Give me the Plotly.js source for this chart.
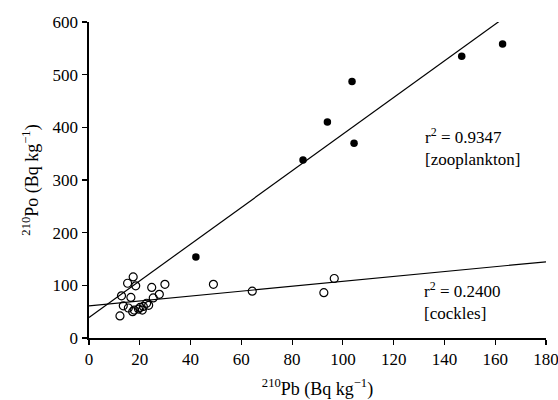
<!DOCTYPE html>
<html>
<head>
<meta charset="utf-8">
<script src="https://cdn.plot.ly/plotly-3.0.1.min.js"></script>
<style>
html,body{margin:0;padding:0;background:#fff;}
#chart{width:558px;height:400px;}
</style>
</head>
<body>
<div id="chart"></div>
<script>
// Zooplankton (filled circles)
const zooPb = [42.1, 84.3, 93.9, 103.6, 104.4, 146.8, 162.9];
const zooPo = [154, 338, 410, 487, 370, 535, 558];
// Cockles (open circles)
const cockPb = [12.2, 12.8, 13.5, 15.2, 15.5, 16.5, 17.2, 17.4, 17.8, 18.4, 19.5, 20.1, 21.0, 21.4, 22.7, 23.5, 24.7, 25.3, 27.7, 29.9, 49.0, 64.3, 92.5, 96.6];
const cockPo = [42, 80, 61, 104, 57, 77, 50, 116, 53, 99, 55, 58, 53, 60, 66, 62, 96, 76, 83, 102, 102, 89, 86, 113];
// Regression lines: [intercept, slope]
const zooFit = [39, 3.48];
const cockFit = [61, 0.465];
const fitX = [0, 180];
const xTicks = [0, 20, 40, 60, 80, 100, 120, 140, 160, 180];
const yTicks = [0, 100, 200, 300, 400, 500, 600];
const labels = {
  zoo: ["r<sup>2</sup> = 0.9347", "[zooplankton]"],
  cock: ["r<sup>2</sup> = 0.2400", "[cockles]"]
};

const font = "Liberation Serif";

const traces = [
  {x: fitX, y: fitX.map(v => zooFit[0] + zooFit[1]*v), mode: "lines", line: {color: "#000", width: 1.2}, hoverinfo: "skip"},
  {x: fitX, y: fitX.map(v => cockFit[0] + cockFit[1]*v), mode: "lines", line: {color: "#000", width: 1.2}, hoverinfo: "skip"},
  {x: cockPb, y: cockPo, mode: "markers", marker: {symbol: "circle-open", size: 8, color: "#000", line: {width: 1.2, color: "#000"}}},
  {x: zooPb, y: zooPo, mode: "markers", marker: {symbol: "circle", size: 7.5, color: "#000"}}
];

const layout = {
  width: 558, height: 400,
  margin: {l: 89, r: 12, t: 22, b: 62},
  paper_bgcolor: "#fff", plot_bgcolor: "#fff",
  showlegend: false,
  font: {family: font, color: "#000", size: 17},
  xaxis: {
    range: [0, 180], tickvals: xTicks, ticktext: xTicks.map(String),
    showgrid: false, zeroline: false, showline: true, linecolor: "#000", linewidth: 2,
    ticks: "outside", ticklen: 5, tickwidth: 1.2, tickcolor: "#000",
    ticklabeloverflow: "allow",
    tickfont: {family: font, size: 17},
    title: {text: "<sup>210</sup>Pb (Bq kg<sup>−1</sup>)", font: {family: font, size: 18}, standoff: 14}
  },
  yaxis: {
    range: [0, 600], tickvals: yTicks, ticktext: yTicks.map(String),
    showgrid: false, zeroline: false, showline: true, linecolor: "#000", linewidth: 2.5,
    ticks: "outside", ticklen: 5, tickwidth: 1.2, tickcolor: "#000",
    tickfont: {family: font, size: 17},
    title: {text: "<sup>210</sup>Po (Bq kg<sup>−1</sup>)", font: {family: font, size: 18}, standoff: 10}
  },
  annotations: [
    {x: 131.5, y: 362, xref: "x", yref: "y", xanchor: "left", yanchor: "middle", text: labels.zoo.join("<br>"), showarrow: false, align: "left", font: {family: font, size: 17}},
    {x: 131, y: 70, xref: "x", yref: "y", xanchor: "left", yanchor: "middle", text: labels.cock.join("<br>"), showarrow: false, align: "left", font: {family: font, size: 17}}
  ]
};

Plotly.newPlot("chart", traces, layout, {displayModeBar: false, staticPlot: true});
</script>
</body>
</html>
